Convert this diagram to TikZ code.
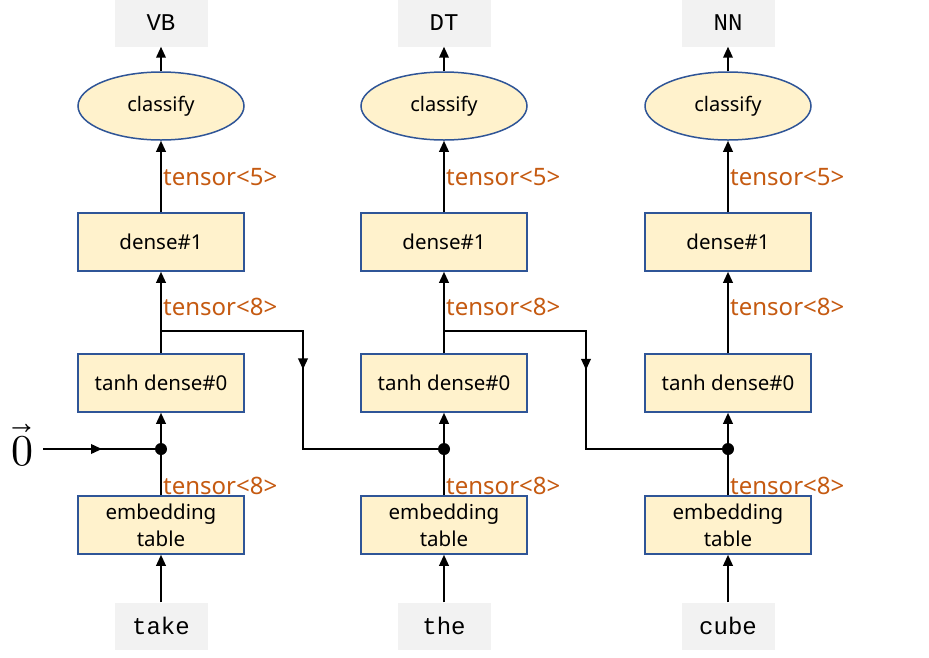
\documentclass[tikz,border=0pt]{standalone}
\usepackage{fontspec}
\usepackage{unicode-math}
\setmainfont{Noto Sans}
\setmathfont{Latin Modern Math}
\newfontfamily\monofont{Liberation Mono}
\usetikzlibrary{shapes.geometric,arrows.meta,decorations.markings}
\definecolor{boxfill}{HTML}{FFF2CC}
\definecolor{boxline}{HTML}{2F5597}
\definecolor{lblcol}{HTML}{C55A11}
\definecolor{tagfill}{HTML}{F2F2F2}
\tikzset{
  x=1pt,y=-1pt,
  layerbox/.style={draw=boxline,fill=boxfill,line width=1.5pt,minimum width=166pt,minimum height=58pt,inner sep=0pt,align=center,font=\fontsize{20.5}{27}\selectfont},
  clsnode/.style={ellipse,draw=boxline,fill=boxfill,line width=1.5pt,minimum width=166pt,minimum height=68pt,inner sep=0pt,font=\fontsize{20}{24}\selectfont},
  tagbox/.style={fill=tagfill,minimum width=93pt,minimum height=47pt,inner sep=0pt,font=\monofont\fontsize{24}{26}\selectfont},
  conn/.style={line width=2pt,-{Triangle[length=11pt,width=9.5pt]}},
  plain/.style={line width=2pt},
  tlabel/.style={text=lblcol,anchor=west,inner sep=0pt,font=\fontsize{24}{26}\selectfont},
  junction/.style={circle,fill=black,minimum size=12pt,inner sep=0pt},
  midarrow/.style={decoration={markings,mark=at position #1 with {\arrow{Triangle[length=11pt,width=9.5pt]}}},postaction={decorate}}
}
\begin{document}
\begin{tikzpicture}
\useasboundingbox (0,0) rectangle (929,657);
\foreach \i/\x/\tag/\word in {1/161/VB/take,2/444/DT/the,3/728/NN/cube}{
  \node[tagbox] (tag\i) at (\x,23) {\tag};
  \node[clsnode] (cls\i) at (\x,106) {classify};
  \node[layerbox] (dense\i) at (\x,242) {dense\#1};
  \node[layerbox] (tanh\i) at (\x,383) {tanh dense\#0};
  \node[junction] (dot\i) at (\x,449) {};
  \node[layerbox] (emb\i) at (\x,525) {embedding\\table};
  \node[tagbox] (word\i) at (\x,626) {\word};
  \coordinate (split\i) at (\x,331);
  \draw[conn] (word\i) -- (emb\i);
  \draw[conn] (emb\i) -- (tanh\i);
  \draw[conn] (tanh\i) -- (dense\i);
  \draw[conn] (dense\i) -- (cls\i);
  \draw[conn] (cls\i) -- (tag\i);
  \node[tlabel] (l5\i) at (\x+2,177) {tensor<5>};
  \node[tlabel] (l8a\i) at (\x+2,307) {tensor<8>};
  \node[tlabel] (l8b\i) at (\x+2,486) {tensor<8>};
}
\node[inner sep=0pt,anchor=base,font=\fontsize{44}{44}\selectfont] (zero) at (22,465) {$\vec{0}$};
\coordinate (zstart) at (43,449);
\draw[plain,midarrow=0.5] (zstart) -- (dot1.center);
\draw[plain,midarrow=0.45] (split1) -| (303,449) -- (dot2.center);
\draw[plain,midarrow=0.45] (split2) -| (586,449) -- (dot3.center);
\end{tikzpicture}
\end{document}
